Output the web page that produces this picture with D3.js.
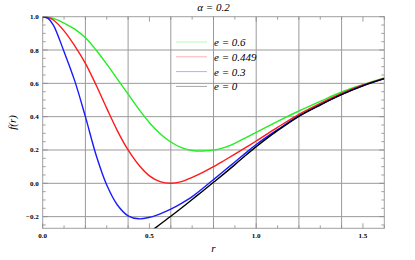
<!DOCTYPE html>
<html lang="en">
<head>
<meta charset="utf-8">
<title>f(r), alpha = 0.2</title>
<script src="https://cdnjs.cloudflare.com/ajax/libs/d3/7.8.5/d3.min.js"></script>
<style>
  body { margin: 0; background: #fff; }
  text { font-family: "Liberation Serif", "Times New Roman", Times, "DejaVu Serif", serif; }
  .tick-label { font-size: 7px; font-weight: bold; fill: #000; }
  .label { font-size: 11px; font-style: italic; fill: #000; }
</style>
</head>
<body>
<div id="chart"></div>
<script>
// r samples shared by the three e > 0 curves
var rVals = [0, 0.025, 0.05, 0.1, 0.15, 0.2, 0.25, 0.3, 0.35, 0.4, 0.45, 0.5, 0.55, 0.6, 0.65,
             0.7, 0.75, 0.8, 0.85, 0.9, 0.95, 1.0, 1.1, 1.2, 1.3, 1.4, 1.5, 1.6];
var fE06   = [1.0, 0.997, 0.99, 0.962, 0.925, 0.873, 0.80, 0.715, 0.625, 0.535, 0.445, 0.364, 0.298, 0.248, 0.214,
              0.197, 0.194, 0.199, 0.214, 0.24, 0.273, 0.306, 0.372, 0.434, 0.492, 0.548, 0.592, 0.632];
var fE0449 = [1.0, 0.995, 0.98, 0.915, 0.825, 0.72, 0.59, 0.45, 0.315, 0.2, 0.11, 0.045, 0.01, 0.0, 0.01,
              0.036, 0.066, 0.1, 0.137, 0.175, 0.214, 0.254, 0.336, 0.414, 0.48, 0.54, 0.59, 0.63];
var fE03   = [1.0, 0.99, 0.95, 0.79, 0.615, 0.40, 0.17, -0.01, -0.13, -0.195, -0.213, -0.204, -0.183, -0.155, -0.12,
              -0.08, -0.03, 0.022, 0.075, 0.128, 0.181, 0.233, 0.322, 0.405, 0.472, 0.534, 0.586, 0.628];
// e = 0 only enters the plotted window from r ~ 0.52
var rE0 = [0.5, 0.55, 0.6, 0.65, 0.7, 0.75, 0.8, 0.85, 0.9, 0.95, 1.0, 1.05, 1.1, 1.2, 1.3, 1.4, 1.5, 1.6];
var fE0 = [-0.295, -0.246, -0.198, -0.148, -0.097, -0.046, 0.006, 0.058, 0.112, 0.167, 0.22, 0.27, 0.316, 0.402, 0.47, 0.532, 0.585, 0.628];

var seriesNames = ["e = 0.6", "e = 0.449", "e = 0.3", "e = 0"];
var seriesColors = ["#22ee22", "#ff1a1a", "#1a1aff", "#000000"];
var xTickLabels = ["0.0", "0.5", "1.0", "1.5"];
var yTickLabels = ["\u22120.2", "0.0", "0.2", "0.4", "0.6", "0.8", "1.0"];

var width = 415, height = 260;
var margin = {top: 16.7, right: 30.7, bottom: 31.7, left: 42.7};

var svg = d3.select("#chart").append("svg")
  .attr("width", width)
  .attr("height", height);

var x = d3.scaleLinear().domain([0, 1.6]).range([margin.left, width - margin.right]);
var y = d3.scaleLinear().domain([-0.27, 1.0]).range([height - margin.bottom, margin.top]);

var x0 = x.range()[0], x1 = x.range()[1], y0 = y.range()[0], y1 = y.range()[1];

// grid
var grid = svg.append("g").attr("stroke", "#9a9a9a").attr("stroke-width", 1);
grid.selectAll("line.vg")
  .data(d3.range(1, 8).map(function(i) { return i * 0.2; }))
  .enter().append("line")
    .attr("x1", function(d) { return x(d); })
    .attr("x2", function(d) { return x(d); })
    .attr("y1", y1).attr("y2", y0);
grid.selectAll("line.hg")
  .data([-0.2, 0, 0.2, 0.4, 0.6, 0.8])
  .enter().append("line")
    .attr("y1", function(d) { return y(d); })
    .attr("y2", function(d) { return y(d); })
    .attr("x1", x0).attr("x2", x1);

// frame
svg.append("rect")
  .attr("x", x0).attr("y", y1)
  .attr("width", x1 - x0).attr("height", y0 - y1)
  .attr("fill", "none").attr("stroke", "#a0a0a0").attr("stroke-width", 1);

// ticks on all four sides (inward)
var ticks = svg.append("g").attr("stroke", "#8a8a8a").attr("stroke-width", 0.8);
var xMinor = d3.range(0, 17).map(function(i) { return i / 10; });
xMinor.forEach(function(v) {
  var major = Math.abs(v * 2 - Math.round(v * 2)) < 1e-6;
  var len = major ? 5 : 3;
  ticks.append("line").attr("x1", x(v)).attr("x2", x(v)).attr("y1", y0).attr("y2", y0 - len);
  ticks.append("line").attr("x1", x(v)).attr("x2", x(v)).attr("y1", y1).attr("y2", y1 + len);
});
var yMinor = d3.range(-5, 21).map(function(i) { return i * 0.05; });
yMinor.forEach(function(v) {
  var major = Math.abs(v * 5 - Math.round(v * 5)) < 1e-6;
  var len = major ? 5 : 3;
  ticks.append("line").attr("y1", y(v)).attr("y2", y(v)).attr("x1", x0).attr("x2", x0 + len);
  ticks.append("line").attr("y1", y(v)).attr("y2", y(v)).attr("x1", x1).attr("x2", x1 - len);
});

// tick labels
svg.selectAll("text.xl")
  .data(xTickLabels)
  .enter().append("text")
    .attr("class", "tick-label")
    .attr("x", function(d) { return x(+d); })
    .attr("y", y0 + 10)
    .attr("text-anchor", "middle")
    .text(function(d) { return d; });
svg.selectAll("text.yl")
  .data(yTickLabels)
  .enter().append("text")
    .attr("class", "tick-label")
    .attr("x", x0 - 4)
    .attr("y", function(d) { return y(+d.replace("\u2212", "-")) + 2.5; })
    .attr("text-anchor", "end")
    .text(function(d) { return d; });

// clip for curves
svg.append("clipPath").attr("id", "plot")
  .append("rect").attr("x", x0).attr("y", y1).attr("width", x1 - x0).attr("height", y0 - y1);

var line = d3.line()
  .x(function(d) { return x(d[0]); })
  .y(function(d) { return y(d[1]); })
  .curve(d3.curveCatmullRom.alpha(0.5));

var curves = [
  d3.zip(rVals, fE06),
  d3.zip(rVals, fE0449),
  d3.zip(rVals, fE03),
  d3.zip(rE0, fE0)
];

svg.append("g").attr("clip-path", "url(#plot)")
  .selectAll("path")
  .data(curves)
  .enter().append("path")
    .attr("d", line)
    .attr("fill", "none")
    .attr("stroke", function(d, i) { return seriesColors[i]; })
    .attr("stroke-width", 1.4);

// legend
var legend = svg.append("g").attr("transform", "translate(176,42)");
legend.selectAll("line")
  .data(seriesNames)
  .enter().append("line")
    .attr("x1", 0).attr("x2", 31)
    .attr("y1", function(d, i) { return i * 14.8; })
    .attr("y2", function(d, i) { return i * 14.8; })
    .attr("stroke", function(d, i) { return seriesColors[i]; })
    .attr("stroke-opacity", 0.35)
    .attr("stroke-width", 1);
legend.selectAll("text")
  .data(seriesNames)
  .enter().append("text")
    .attr("class", "label")
    .attr("x", 38)
    .attr("y", function(d, i) { return i * 14.8 + 4; })
    .text(function(d) { return d; });

// title and axis labels
svg.append("text").attr("class", "label")
  .attr("x", (x0 + x1) / 2).attr("y", 11)
  .attr("text-anchor", "middle")
  .text("\u03b1 = 0.2");
svg.append("text").attr("class", "label")
  .attr("x", (x0 + x1) / 2).attr("y", 252)
  .attr("text-anchor", "middle")
  .text("r");
svg.append("text").attr("class", "label")
  .attr("transform", "translate(16," + ((y0 + y1) / 2) + ") rotate(-90)")
  .attr("text-anchor", "middle")
  .text("f(r)");
</script>
</body>
</html>
